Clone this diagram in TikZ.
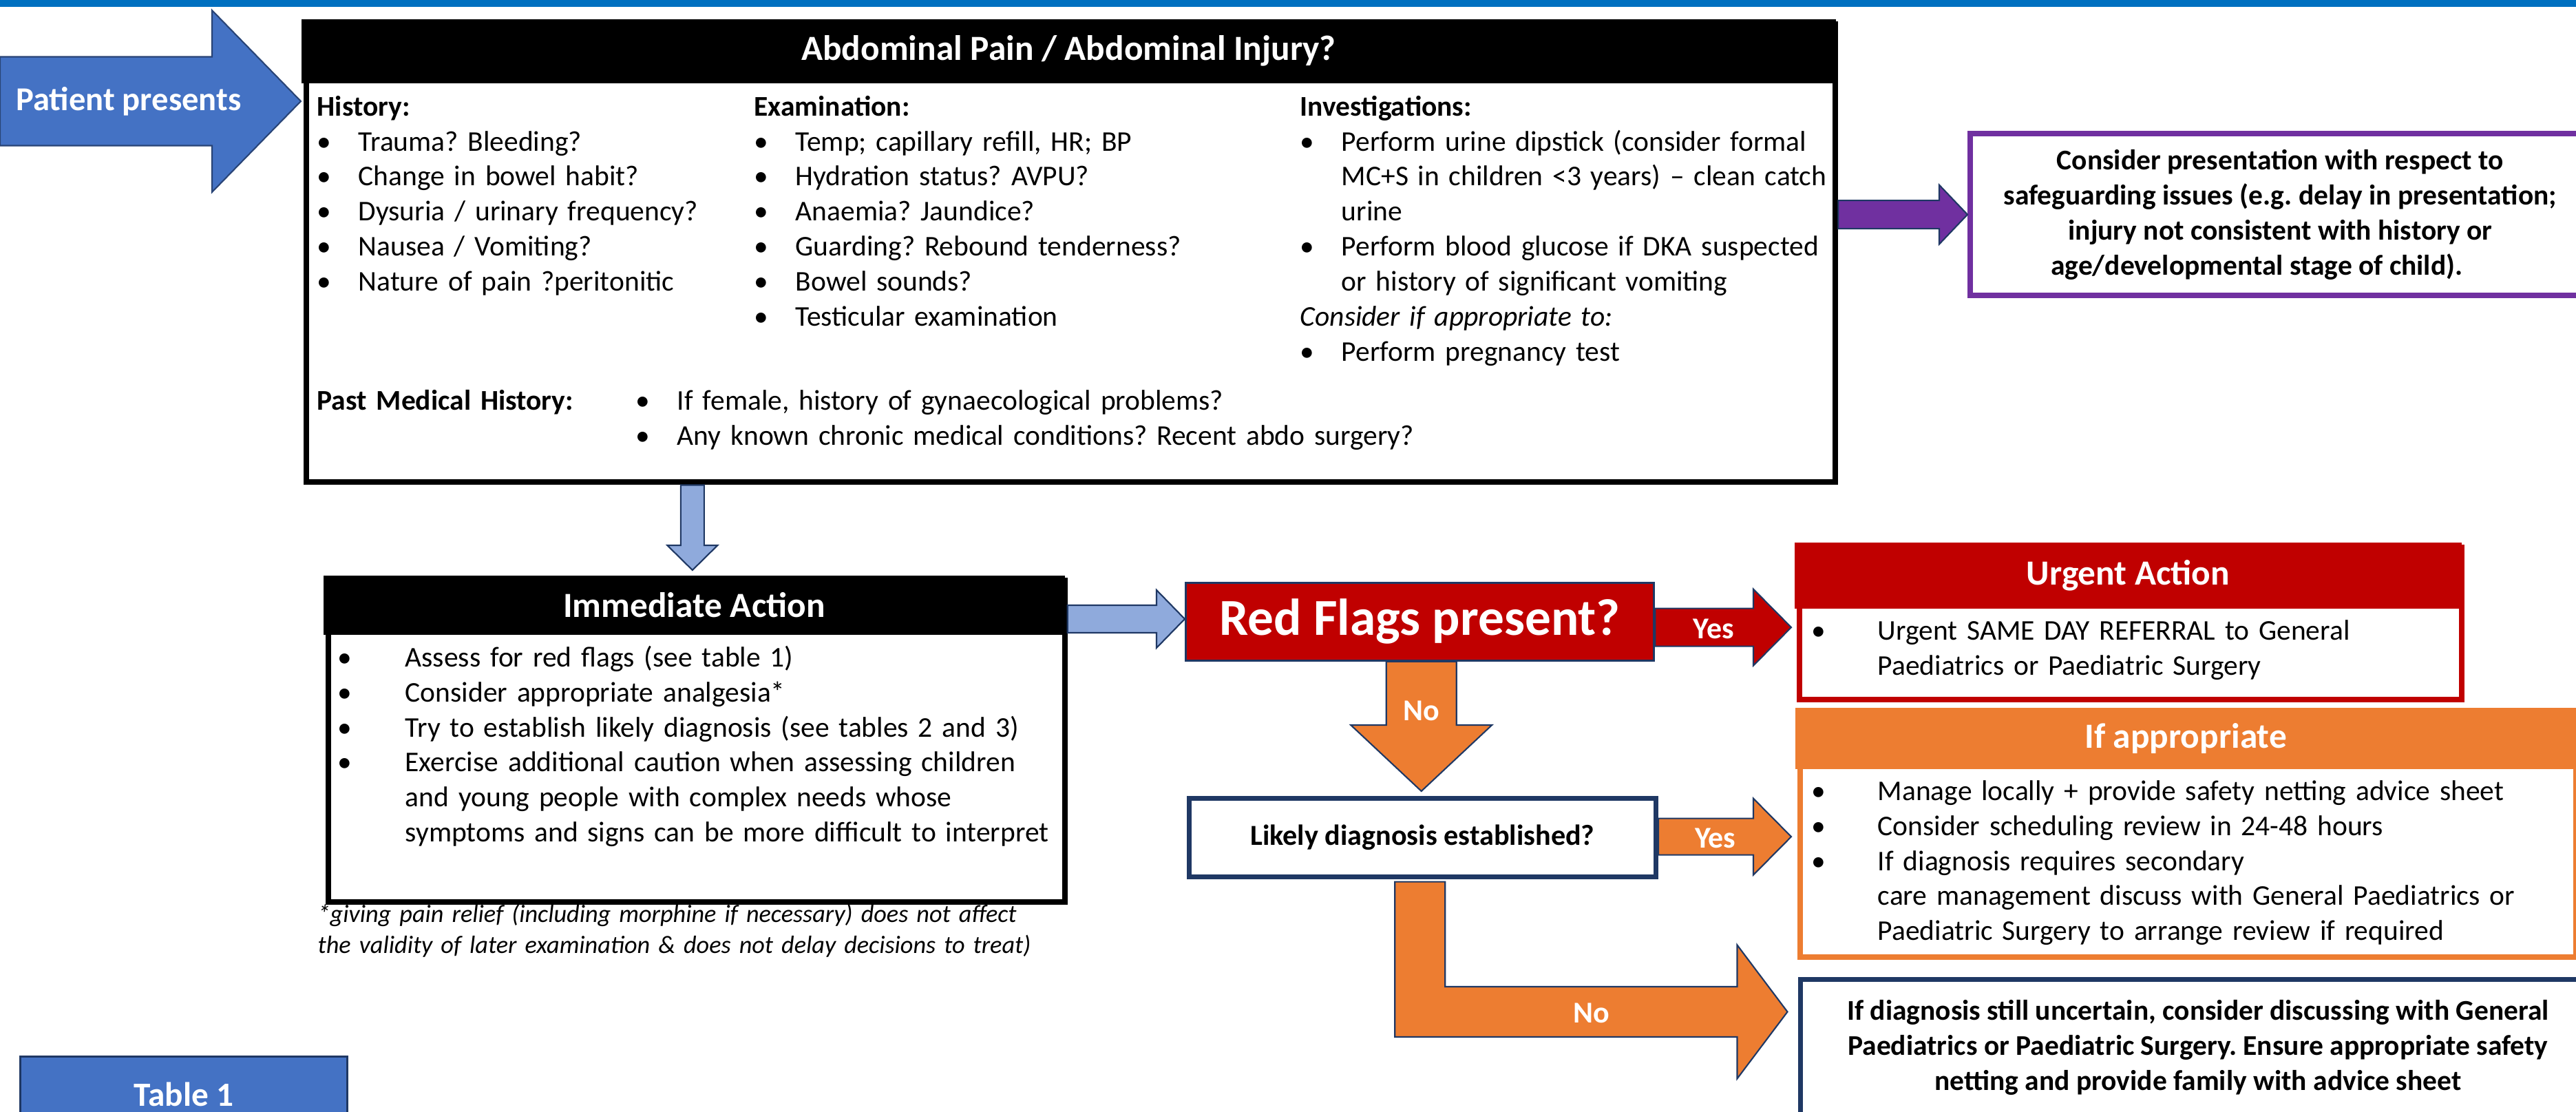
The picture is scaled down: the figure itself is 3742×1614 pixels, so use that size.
\documentclass[tikz,border=0pt]{standalone}
\usepackage{fontspec}
\setmainfont{Carlito}
\usetikzlibrary{positioning,calc}
\frenchspacing
\definecolor{barc}{HTML}{0070C0}
\definecolor{bluec}{HTML}{4472C4}
\definecolor{lbluec}{HTML}{8FAADC}
\definecolor{navyc}{HTML}{1F3864}
\definecolor{redc}{HTML}{C00000}
\definecolor{orangec}{HTML}{ED7D31}
\definecolor{purplec}{HTML}{7030A0}
\tikzset{
  frame/.style={draw, line width=2.3pt, anchor=north west, inner sep=0pt},
  head/.style={anchor=north west, inner sep=0pt, text=white, font=\fontsize{14.6}{17}\selectfont\bfseries},
  txt/.style={anchor=base west, inner sep=0pt, text width=14cm, align=left, font=\fontsize{11.8}{14.5}\selectfont},
  note/.style={txt, font=\fontsize{10.3}{12.8}\selectfont\itshape},
  bold/.style={font=\fontsize{11.8}{14.5}\selectfont\bfseries},
  barrow/.style={draw=navyc, line width=0.6pt},
  arrtxt/.style={text=white, font=\fontsize{12.5}{15}\selectfont\bfseries, inner sep=0pt}
}
\newcommand\itm[2][0.6cm]{\makebox[#1][l]{\textbullet}#2}
\newcommand\cnt[2][0.6cm]{\hspace*{#1}#2}
% block arrows: [style]{start}{tip}{body half}{head half}{head length}
\newcommand\harrow[6][]{%
  \draw[barrow,#1] ($(#2)+(0,-#4)$) -- ($(#3)+(-#6,-#4)$) -- ($(#3)+(-#6,-#5)$) -- (#3)
    -- ($(#3)+(-#6,#5)$) -- ($(#3)+(-#6,#4)$) -- ($(#2)+(0,#4)$) -- cycle;}
\newcommand\varrow[6][]{%
  \draw[barrow,#1] ($(#2)+(-#4,0)$) -- ($(#3)+(-#4,-#6)$) -- ($(#3)+(-#5,-#6)$) -- (#3)
    -- ($(#3)+(#5,-#6)$) -- ($(#3)+(#4,-#6)$) -- ($(#2)+(#4,0)$) -- cycle;}

\begin{document}
\begin{tikzpicture}[x=0.01cm, y=-0.01cm]
  \useasboundingbox (0,0) rectangle (3742,1614);
  \clip (0,0) rectangle (3742,1614);
  \fill[barc] (0,0) rectangle (3742,10);

  % boxes
  \node[head, fill=black, minimum width=22.28cm, minimum height=0.93cm] (mainhd) at (437,27) {Abdominal Pain / Abdominal Injury?};
  \node[frame, minimum width=22.2cm, minimum height=6.65cm] (main) at (441,31) {};
  \node[head, fill=black, minimum width=10.77cm, minimum height=0.86cm] (immhd) at (469,835) {Immediate Action};
  \node[frame, minimum width=10.69cm, minimum height=4.67cm] (immed) at (473,839) {};
  \node[head, fill=redc, minimum width=9.69cm, minimum height=0.96cm] (urghd) at (2606,787) {Urgent Action};
  \node[frame, draw=redc, minimum width=9.61cm, minimum height=2.21cm] (urgent) at (2610,791) {};
  \node[head, fill=orangec, minimum width=11.34cm, minimum height=0.89cm] (apprhd) at (2607,1027) {If appropriate};
  \node[frame, draw=orangec, minimum width=11.26cm, minimum height=3.55cm] (appr) at (2611,1031) {};
  \node[frame, draw=purplec, bold, align=center, minimum width=9cm, minimum height=2.35cm] (safe) at (2858,190)
    {Consider presentation with respect to\\safeguarding issues (e.g. delay in presentation;\\injury not consistent with history or\\age/developmental stage of child).\hspace*{0.68cm}};
  \node[frame, draw=navyc, line width=0.8pt, fill=redc, text=white, font=\fontsize{21.4}{25}\selectfont\bfseries,
    minimum width=6.8cm, minimum height=1.13cm] (flag) at (1721,845) {Red Flags present?};
  \node[frame, draw=navyc, line width=2pt, font=\fontsize{12}{14}\selectfont\bfseries,
    minimum width=6.78cm, minimum height=1.14cm] (likely) at (1723.5,1155.5) {Likely diagnosis established?};
  \node[frame, draw=navyc, line width=2pt, bold, align=center, minimum width=11.55cm, minimum height=1.98cm] (final) at (2611.5,1418.5)
    {If diagnosis still uncertain, consider discussing with General\\Paediatrics or Paediatric Surgery. Ensure appropriate safety\\netting and provide family with advice sheet};
  \node[frame, draw=navyc, line width=0.8pt, fill=bluec, text=white, font=\fontsize{14}{17}\selectfont\bfseries,
    minimum width=4.75cm, minimum height=1.1cm] (tab1) at (28,1533) {Table 1};

  % main box text
  \node[txt] (hist) at (460,168) {\textbf{History:}\\
    \itm{Trauma? Bleeding?}\\
    \itm{Change in bowel habit?}\\
    \itm{Dysuria / urinary frequency?}\\
    \itm{Nausea / Vomiting?}\\
    \itm{Nature of pain ?peritonitic}};
  \node[txt] (exam) at (1095,168) {\textbf{Examination:}\\
    \itm{Temp; capillary refill, HR; BP}\\
    \itm{Hydration status? AVPU?}\\
    \itm{Anaemia? Jaundice?}\\
    \itm{Guarding? Rebound tenderness?}\\
    \itm{Bowel sounds?}\\
    \itm{Testicular examination}};
  \node[txt] (invest) at (1888,168) {\textbf{Investigations:}\\
    \itm{Perform urine dipstick (consider formal}\\
    \cnt{MC+S in children <3 years) – clean catch}\\
    \cnt{urine}\\
    \itm{Perform blood glucose if DKA suspected}\\
    \cnt{or history of significant vomiting}\\
    \textit{Consider if appropriate to:}\\
    \itm{Perform pregnancy test}};
  \node[txt] (pmhhd) at (460,595) {\textbf{Past Medical History:}};
  \node[txt] (pmh) at (923,595) {\itm{If female, history of gynaecological problems?}\\
    \itm{Any known chronic medical conditions? Recent abdo surgery?}};

  % lower lists
  \node[txt] (immlist) at (490,968) {\itm[0.98cm]{Assess for red flags (see table 1)}\\
    \itm[0.98cm]{Consider appropriate analgesia*}\\
    \itm[0.98cm]{Try to establish likely diagnosis (see tables 2 and 3)}\\
    \itm[0.98cm]{Exercise additional caution when assessing children}\\
    \cnt[0.98cm]{and young people with complex needs whose}\\
    \cnt[0.98cm]{symptoms and signs can be more difficult to interpret}};
  \node[note] (foot) at (461,1339) {*giving pain relief (including morphine if necessary) does not affect\\
    the validity of later examination \& does not delay decisions to treat)};
  \node[txt] (urglist) at (2631,929) {\itm[0.96cm]{Urgent SAME DAY REFERRAL to General}\\
    \cnt[0.96cm]{Paediatrics or Paediatric Surgery}};
  \node[txt] (apprlist) at (2631,1162) {\itm[0.96cm]{Manage locally + provide safety netting advice sheet}\\
    \itm[0.96cm]{Consider scheduling review in 24-48 hours}\\
    \itm[0.96cm]{If diagnosis requires secondary}\\
    \cnt[0.96cm]{care management discuss with General Paediatrics or}\\
    \cnt[0.96cm]{Paediatric Surgery to arrange review if required}};

  % block arrows
  \coordinate (pstart) at (0,147);
  \coordinate (ptip) at ($(main.north west)+(-4,116)$);
  \harrow[fill=bluec, draw=bluec!60!black]{pstart}{ptip}{64.5}{132}{129}
  \node[font=\fontsize{13.8}{16}\selectfont\bfseries, text=white, inner sep=0pt] (patient) at (187,147) {Patient presents};

  \coordinate (t1) at ($(immed.north)+(-6,-11)$);
  \coordinate (s1) at (t1 |- main.south);
  \varrow[fill=lbluec]{s1}{t1}{17}{36.5}{36}

  \coordinate (t2) at ($(flag.west)+(0,-4)$);
  \coordinate (s2) at (immed.east |- t2);
  \harrow[fill=lbluec]{s2}{t2}{20}{42}{41}

  \coordinate (t3) at (safe.west);
  \coordinate (s3) at (main.east |- t3);
  \harrow[fill=purplec]{s3}{t3}{20.5}{43}{41}

  \coordinate (t4) at ($(urgent.west)+(-8,5.5)$);
  \coordinate (s4) at (flag.east |- t4);
  \harrow[fill=redc]{s4}{t4}{27.5}{55.5}{55}
  \node[arrtxt] (yes1) at ($(s4)!0.43!(t4)+(0,2)$) {Yes};

  \coordinate (t5) at ($(likely.north)+(-1.5,-6.5)$);
  \coordinate (s5) at (t5 |- flag.south);
  \varrow[fill=orangec]{s5}{t5}{51}{102.5}{96}
  \node[arrtxt] (no1) at ($(s5)!0.38!(t5)$) {No};

  \coordinate (t6) at ($(appr.west)+(-9,2.5)$);
  \coordinate (s6) at (likely.east |- t6);
  \harrow[fill=orangec]{s6}{t6}{26.5}{55.5}{55}
  \node[arrtxt] (yes2) at ($(s6)!0.43!(t6)+(0,2)$) {Yes};

  \coordinate (t7) at ($(final.north west)+(-15,51)$);
  \draw[barrow, fill=orangec] ($(likely.south)+(-40,4)$) |- ($(t7)+(-73,36.5)$) -- ($(t7)+(-73,97)$) -- (t7)
    -- ($(t7)+(-73,-97)$) -- ($(t7)+(-73,-36.5)$) -| ($(likely.south)+(33,4)$) -- cycle;
  \node[arrtxt] (no2) at ($(t7)+(-285,2)$) {No};
\end{tikzpicture}
\end{document}
